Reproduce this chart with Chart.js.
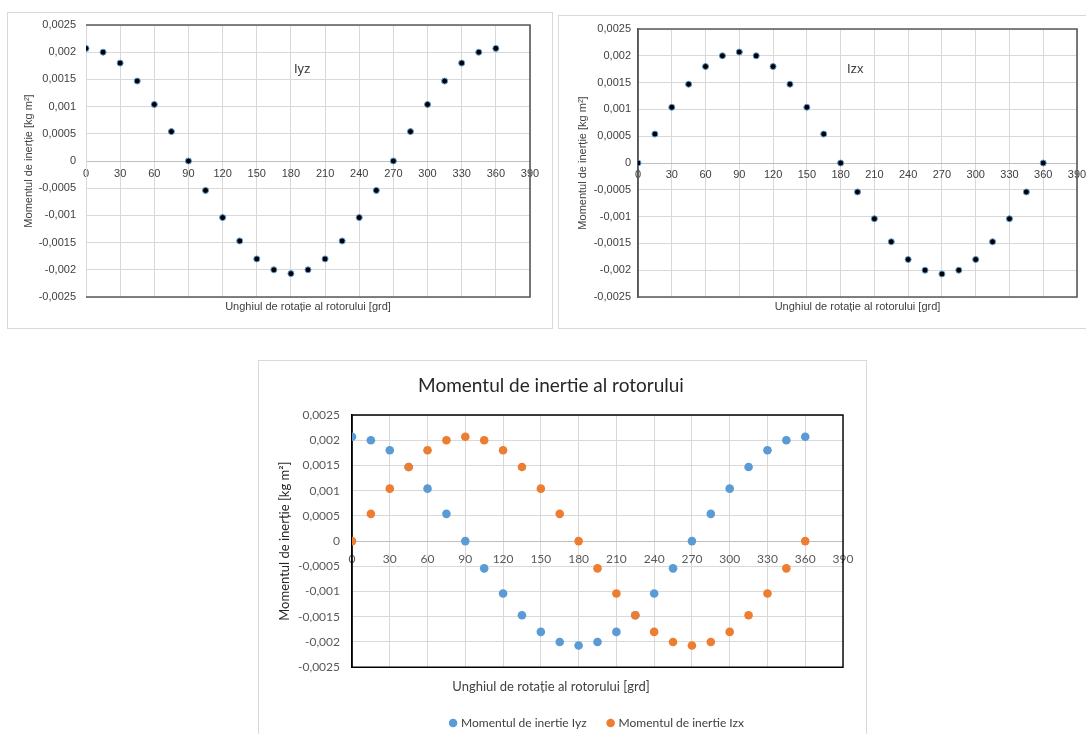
<!DOCTYPE html>
<html>
<head>
<meta charset="utf-8">
<title>Momentul de inertie al rotorului</title>
<script src="https://cdn.jsdelivr.net/npm/chart.js@4.4.1/dist/chart.umd.min.js"></script>
<style>
  html, body { margin: 0; padding: 0; background: #fff; }
  body { position: relative; width: 1086px; height: 734px; overflow: hidden; }
  .box { position: absolute; border: 1px solid #d9d9d9; background: #fff; }
  #box1 { left: 7px; top: 12px; width: 544px; height: 315px; }
  #box2 { left: 558px; top: 15px; width: 560px; height: 312px; }
  #box3 { left: 258px; top: 360px; width: 607px; height: 380px; }
  canvas { display: block; }
</style>
</head>
<body>
<div class="box" id="box1"><canvas id="cIyz" width="544" height="315"></canvas></div>
<div class="box" id="box2"><canvas id="cIzx" width="540" height="312"></canvas></div>
<div class="box" id="box3"><canvas id="cAll" width="607" height="380"></canvas></div>
<script>
Chart.defaults.animation = false;

// unghiul de rotatie [grd]
const angles = [0, 15, 30, 45, 60, 75, 90, 105, 120, 135, 150, 165, 180,
  195, 210, 225, 240, 255, 270, 285, 300, 315, 330, 345, 360];
// momentul de inertie [kg m2]
const iyz = [0.00207, 0.00200, 0.00180, 0.00147, 0.00104, 0.00054, 0,
  -0.00054, -0.00104, -0.00147, -0.00180, -0.00200, -0.00207,
  -0.00200, -0.00180, -0.00147, -0.00104, -0.00054, 0,
  0.00054, 0.00104, 0.00147, 0.00180, 0.00200, 0.00207];
const izx = [0, 0.00054, 0.00104, 0.00147, 0.00180, 0.00200, 0.00207,
  0.00200, 0.00180, 0.00147, 0.00104, 0.00054, 0,
  -0.00054, -0.00104, -0.00147, -0.00180, -0.00200, -0.00207,
  -0.00200, -0.00180, -0.00147, -0.00104, -0.00054, 0];
const xMin = 0, xMax = 390, xStep = 30;
const yMin = -0.0025, yMax = 0.0025, yStep = 0.0005;

const yTitle = "Momentul de inerție [kg m²]";
const xTitle = "Unghiul de rotație al rotorului [grd]";

function toPoints(vals) {
  return angles.map(function (a, i) { return { x: a, y: vals[i] }; });
}

// 0.0005 -> "0,0005"
function fmtTick(v) {
  const r = Math.round(v * 10000) / 10000;
  return String(r).replace(".", ",");
}

// dark frame around the plot + optional text label inside
const frame = {
  id: "frame",
  beforeDatasetsDraw(chart, args, opts) {
    const a = chart.chartArea, ctx = chart.ctx;
    ctx.save();
    ctx.strokeStyle = opts.color;
    ctx.lineWidth = opts.width;
    ctx.beginPath();
    ctx.moveTo(a.left, a.top);
    ctx.lineTo(a.right, a.top);
    ctx.lineTo(a.right, a.bottom);
    ctx.lineTo(a.left, a.bottom);
    if (opts.left) ctx.closePath();
    ctx.stroke();
    if (opts.label) {
      ctx.fillStyle = "#404040";
      ctx.font = "13px 'Liberation Sans', Arial, sans-serif";
      ctx.textAlign = "center";
      ctx.textBaseline = "middle";
      ctx.fillText(opts.label,
        chart.scales.x.getPixelForValue(opts.at[0]),
        chart.scales.y.getPixelForValue(opts.at[1]));
    }
    ctx.restore();
  }
};

function smallChart(id, vals, o) {
  const font = { family: "'Liberation Sans', Arial, sans-serif", size: 11 };
  return new Chart(document.getElementById(id), {
    type: "scatter",
    data: {
      datasets: [{
        data: toPoints(vals),
        backgroundColor: "#000",
        borderColor: "#5b9bd5",
        borderWidth: 1,
        pointRadius: 3
      }]
    },
    options: {
      responsive: false,
      layout: { padding: { left: 0, right: o.right, top: o.top, bottom: 0 } },
      plugins: {
        legend: { display: false },
        tooltip: { enabled: false },
        frame: { color: "#595959", width: 1.6, left: o.darkLeft, label: o.label, at: o.at }
      },
      scales: {
        x: {
          type: "linear",
          position: { y: 0 },
          min: xMin, max: xMax,
          ticks: { stepSize: xStep, font: font, color: "#404040", padding: o.xPad },
          grid: { color: "#d9d9d9", drawTicks: false },
          border: { color: "#bfbfbf" }
        },
        xb: {
          type: "linear",
          position: "bottom",
          min: xMin, max: xMax,
          grid: { display: false, drawTicks: false },
          border: { display: false },
          ticks: { display: false },
          title: { display: true, text: xTitle, font: font, color: "#404040", padding: { top: 0, bottom: o.xTitlePad } },
          afterFit: function (s) { s.height = o.xbHeight; }
        },
        y: {
          type: "linear",
          min: yMin, max: yMax,
          ticks: { stepSize: yStep, font: font, color: "#404040", padding: 0, callback: fmtTick },
          // invisible tick marks give the gap between labels and the plot
          grid: { color: "#d9d9d9", drawTicks: true, tickLength: o.yGap, tickColor: "rgba(0,0,0,0)" },
          border: { color: o.darkLeft ? "#595959" : "#d9d9d9", width: o.darkLeft ? 1.6 : 1 },
          title: { display: true, text: yTitle, font: font, color: "#404040", padding: { top: o.yTitlePad, bottom: 0 } },
          afterFit: function (s) { s.width = o.yWidth; }
        }
      }
    },
    plugins: [frame]
  });
}

smallChart("cIyz", iyz, {
  right: 22, top: 12, xPad: 6, xbHeight: 31, xTitlePad: 14.4,
  yGap: 10, yTitlePad: 14.4, yWidth: 78, darkLeft: false,
  label: "Iyz", at: [190, 0.00169]
});

smallChart("cIzx", izx, {
  right: 22, top: 13, xPad: 5, xbHeight: 31, xTitlePad: 14.4,
  yGap: 7, yTitlePad: 17.4, yWidth: 79, darkLeft: true,
  label: "Izx", at: [193, 0.00175]
});

// grafic comun
const lato = "Lato, 'Open Sans', sans-serif";
const f12 = { family: lato, size: 12 };
const f13 = { family: lato, size: 13 };

new Chart(document.getElementById("cAll"), {
  type: "scatter",
  data: {
    datasets: [
      {
        label: "Momentul de inertie Iyz",
        data: toPoints(iyz),
        backgroundColor: "#5b9bd5",
        borderColor: "#5b9bd5",
        borderWidth: 0,
        pointRadius: 4.3,
        order: 1
      },
      {
        label: "Momentul de inertie Izx",
        data: toPoints(izx),
        backgroundColor: "#ed7d31",
        borderColor: "#ed7d31",
        borderWidth: 0,
        pointRadius: 4.3,
        order: 0
      }
    ]
  },
  options: {
    responsive: false,
    layout: { padding: { left: 0, right: 23, top: 0, bottom: 2 } },
    plugins: {
      title: {
        display: true,
        text: "Momentul de inertie al rotorului",
        font: { family: lato, size: 19, weight: "normal" },
        color: "#262626",
        padding: { top: 13.6, bottom: 17.6 }
      },
      subtitle: {
        display: true,
        position: "bottom",
        weight: 500,
        text: xTitle,
        font: f13,
        color: "#404040",
        padding: { top: 12.2, bottom: 0 }
      },
      legend: {
        position: "bottom",
        fullSize: false,
        labels: {
          usePointStyle: true,
          pointStyle: "circle",
          boxWidth: 4,
          boxHeight: 6,
          padding: 22,
          font: f12,
          color: "#404040",
          sort: function (a, b) { return a.datasetIndex - b.datasetIndex; }
        }
      },
      tooltip: { enabled: false },
      frame: { color: "#000", width: 1.4, left: true }
    },
    scales: {
      x: {
        type: "linear",
        position: { y: 0 },
        min: xMin, max: xMax,
        ticks: { stepSize: xStep, font: f12, color: "#595959", padding: 11 },
        grid: { color: "#d9d9d9", drawTicks: false },
        border: { color: "#bfbfbf" }
      },
      y: {
        type: "linear",
        min: yMin, max: yMax,
        ticks: { stepSize: yStep, font: f12, color: "#595959", padding: 12, callback: fmtTick },
        grid: { color: "#d9d9d9", drawTicks: false },
        border: { color: "#000", width: 1.4 },
        title: { display: true, text: yTitle, font: f13, color: "#262626", padding: { top: 18.2, bottom: 0 } },
        afterFit: function (s) { s.width = 93; }
      }
    }
  },
  plugins: [frame]
});
</script>
</body>
</html>
